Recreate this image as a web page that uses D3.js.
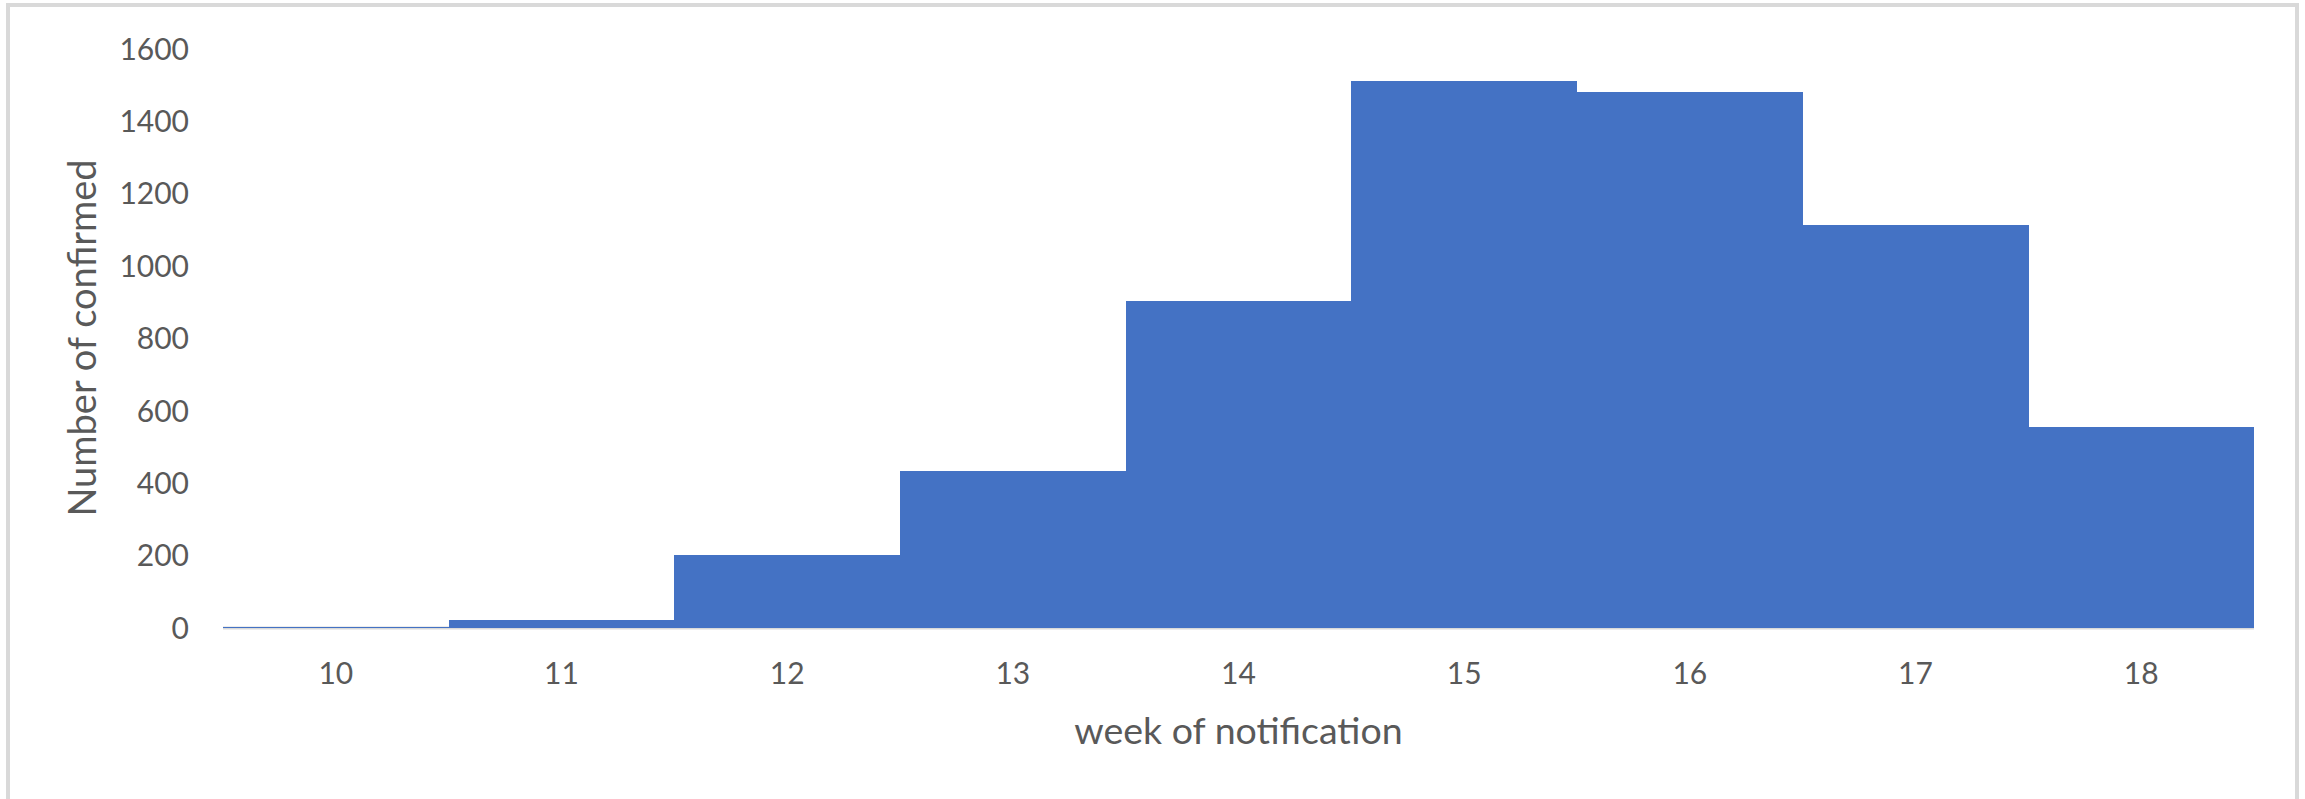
<!DOCTYPE html>
<html>
<head>
<meta charset="utf-8">
<script src="https://cdn.jsdelivr.net/npm/d3@7/dist/d3.min.js"></script>
<style>
  html, body { margin: 0; padding: 0; background: #ffffff; }
  svg { display: block; }
  text { font-family: Lato, "Open Sans", sans-serif; fill: #595959; }
</style>
</head>
<body>
<svg id="chart" width="2305" height="799"></svg>
<script>
const weeks = ["10", "11", "12", "13", "14", "15", "16", "17", "18"];
const confirmed = [1, 20, 200, 432, 903, 1510, 1478, 1112, 554];
const yTicks = [0, 200, 400, 600, 800, 1000, 1200, 1400, 1600];
const xTitle = "week of notification";
const yTitle = "Number of confirmed";

(function () {
const svg = d3.select("#chart");

// chart border
svg.append("rect")
  .attr("x", 8).attr("y", 5)
  .attr("width", 2289).attr("height", 820)
  .attr("fill", "#ffffff")
  .attr("stroke", "#d9d9d9").attr("stroke-width", 4);

const pLeft = 223, pRight = 2254, pTop = 48.3, pBottom = 627.5;

const x = d3.scaleBand().domain(weeks).range([pLeft, pRight]).padding(0);
const y = d3.scaleLinear().domain([0, 1600]).range([pBottom, pTop]);

// baseline (horizontal axis line)
const xAxis = d3.axisBottom(x).tickSize(0).tickPadding(0);
const gx = svg.append("g").attr("transform", `translate(0,${pBottom + 0.5})`).call(xAxis);
gx.select(".domain").attr("stroke", "#d9d9d9").attr("stroke-width", 3)
  .attr("d", `M${pLeft},0H${pRight}`);
gx.selectAll(".tick text")
  .attr("y", 684 - (pBottom + 0.5)).attr("dy", 0)
  .style("font-size", "30px").style("font-family", "Lato, sans-serif").attr("fill", "#595959");

// bars
svg.append("g").selectAll("rect")
  .data(weeks.map((w, i) => ({ w, v: confirmed[i] })))
  .join("rect")
  .attr("x", d => x(d.w))
  .attr("width", x.bandwidth() + 0.3)
  .attr("y", d => y(d.v))
  .attr("height", d => y(0) - y(d.v))
  .attr("fill", "#4472c4")
  .attr("shape-rendering", "crispEdges");

// y axis labels
const yAxis = d3.axisLeft(y).tickValues(yTicks).tickSize(0).tickPadding(34).tickFormat(d3.format("d"));
const gy = svg.append("g").attr("transform", `translate(${pLeft},0)`).call(yAxis);
gy.select(".domain").remove();
gy.selectAll(".tick text")
  .attr("dy", "0.36em")
  .style("font-size", "30px").style("font-family", "Lato, sans-serif").attr("fill", "#595959");

// axis titles
svg.append("text")
  .attr("x", (pLeft + pRight) / 2).attr("y", 744)
  .attr("text-anchor", "middle")
  .style("font-size", "37.5px")
  .text(xTitle);

svg.append("text")
  .attr("transform", `translate(96,338) rotate(-90)`)
  .attr("text-anchor", "middle")
  .style("font-size", "38px")
  .text(yTitle);
})();
</script>
</body>
</html>
